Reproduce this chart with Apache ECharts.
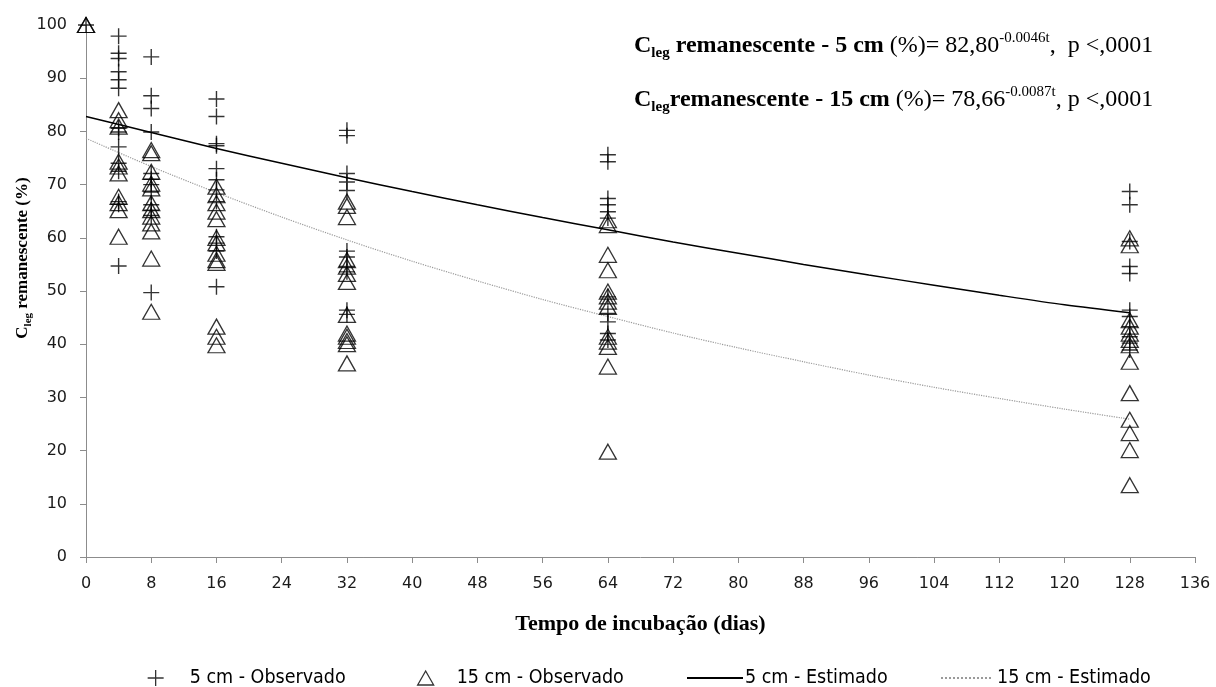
<!DOCTYPE html>
<html>
<head>
<meta charset="utf-8">
<script src="https://cdn.jsdelivr.net/npm/echarts@6/dist/echarts.min.js"></script>
<style>
  html, body { margin: 0; padding: 0; background: #fff; }
  #chart { width: 1216px; height: 687px; }
</style>
</head>
<body>
<div id="chart"></div>
<script>
// dias de incubação em que houve coleta
const dias = [0, 4, 8, 16, 32, 64, 128];

// C leg remanescente (%) observado - 5 cm, um array por dia
const obs5 = [
  [100],
  [97.9, 94.7, 93.7, 91.2, 89.7, 88.1, 80.6, 79.9, 77.1, 74.0, 72.5, 66.8, 66.3, 54.7],
  [94.0, 86.7, 84.3, 79.9, 72.1, 71.0, 70.0, 68.6, 66.2, 65.2, 64.2, 49.7],
  [86.1, 82.8, 77.7, 77.3, 73.0, 70.9, 69.0, 66.8, 60.2, 59.0, 57.5, 50.8],
  [80.2, 79.2, 72.1, 70.5, 68.9, 57.5, 56.4, 54.6, 53.6, 46.4, 45.6],
  [75.6, 74.3, 67.4, 66.2, 64.9, 63.7, 48.9, 45.8, 44.2, 42.0, 40.8],
  [68.7, 66.2, 59.3, 54.6, 53.3, 46.4, 45.2, 43.3, 41.4, 40.2, 38.9]
];

// C leg remanescente (%) observado - 15 cm
const obs15 = [
  [100, 100],
  [84.0, 82.1, 80.9, 74.3, 73.4, 72.1, 67.7, 66.5, 65.2, 60.2],
  [76.5, 75.9, 72.4, 70.2, 69.3, 66.5, 65.2, 64.0, 62.7, 61.2, 56.1, 46.1],
  [69.6, 68.0, 66.5, 64.9, 63.5, 60.0, 59.0, 57.0, 55.8, 55.3, 43.3, 41.4, 39.8],
  [66.8, 66.0, 63.9, 55.8, 54.6, 53.2, 51.7, 45.5, 42.0, 41.4, 40.6, 40.0, 36.4],
  [63.3, 62.4, 56.8, 53.9, 49.9, 49.0, 48.0, 47.0, 41.4, 40.5, 39.5, 35.8, 19.8],
  [59.9, 58.6, 44.5, 43.3, 42.0, 40.8, 39.8, 36.7, 30.8, 25.8, 23.3, 20.1, 13.5]
];

// curvas estimadas, lidas do gráfico a cada 8 dias
const tempoCurva = [0, 8, 16, 24, 32, 40, 48, 56, 64, 72, 80, 88, 96, 104, 112, 120, 128];
const est5 = [82.8, 79.8, 76.8, 74.0, 71.3, 68.7, 66.2, 63.8, 61.5, 59.2, 57.1, 55.0, 53.0, 51.1, 49.2, 47.4, 45.9];
const est15 = [78.7, 73.4, 68.5, 63.9, 59.6, 55.6, 51.9, 48.4, 45.2, 42.1, 39.3, 36.7, 34.2, 31.9, 29.8, 27.8, 25.9];

const toPairs = (groups) =>
  groups.flatMap((vals, i) => vals.map((v) => [dias[i], v]));
const curve = (vals) => tempoCurva.map((t, i) => [t, vals[i]]);

const plusPath = "path://M5 0L5 10M0 5L10 5";
const serif = "'Liberation Serif', 'Times New Roman', serif";
const tickFont = "'DejaVu Sans', Verdana, sans-serif";
const legendFont = "'DejaVu Sans Condensed', 'Liberation Sans', sans-serif";

const eqRich = {
  b: { fontFamily: serif, fontWeight: "bold", fontSize: 24, lineHeight: 30, color: "#000" },
  sub: { fontFamily: serif, fontWeight: "bold", fontSize: 15, lineHeight: 15, verticalAlign: "bottom", color: "#000" },
  n: { fontFamily: serif, fontSize: 24, lineHeight: 30, color: "#000" },
  sup: { fontFamily: serif, fontSize: 15, lineHeight: 17, verticalAlign: "top", color: "#000" }
};

const hollow = { color: "rgba(255,255,255,0)", borderColor: "#000", borderWidth: 1.3 };

// cada item da legenda é posicionado à parte, como no Excel
const legendItem = (name, left, opts) => ({
  data: [name],
  left,
  top: 668,
  padding: 0,
  itemGap: 0,
  itemWidth: opts.w,
  itemHeight: opts.h,
  icon: opts.icon,
  itemStyle: opts.hideSymbol ? { opacity: 0 } : hollow,
  textStyle: {
    fontFamily: legendFont,
    fontSize: 19.5,
    color: "#000",
    padding: [0, 0, 0, opts.pad]
  }
});

const chart = echarts.init(document.getElementById("chart"));
chart.setOption({
  animation: false,
  backgroundColor: "#fff",
  grid: { left: 86, right: 21, top: 25, bottom: 130, outerBoundsMode: "none" },
  legend: [
    legendItem("5 cm - Observado", 147, { w: 16, h: 16, icon: plusPath, pad: 21 }),
    legendItem("15 cm - Observado", 417, { w: 16, h: 14, icon: "triangle", pad: 18 }),
    legendItem("5 cm - Estimado", 686, { w: 56, h: 16, hideSymbol: true, pad: -3 }),
    legendItem("15 cm - Estimado", 940, { w: 52, h: 16, hideSymbol: true, pad: -1 })
  ],
  xAxis: {
    type: "value",
    min: 0,
    max: 136,
    interval: 8,
    name: "Tempo de incubação (dias)",
    nameLocation: "middle",
    nameGap: 56,
    nameTextStyle: { fontFamily: serif, fontWeight: "bold", fontSize: 22, color: "#000" },
    axisLine: { lineStyle: { color: "#8c8c8c", width: 1 } },
    axisTick: { show: true, length: 6, lineStyle: { color: "#8c8c8c" } },
    axisLabel: { margin: 19, fontFamily: tickFont, fontSize: 16, color: "#1a1a1a" },
    splitLine: { show: false }
  },
  yAxis: {
    type: "value",
    min: 0,
    max: 100,
    interval: 10,
    axisLine: { show: true, lineStyle: { color: "#8c8c8c", width: 1 } },
    axisTick: { show: true, length: 6, lineStyle: { color: "#8c8c8c" } },
    axisLabel: { margin: 19, fontFamily: tickFont, fontSize: 16, color: "#1a1a1a" },
    splitLine: { show: false }
  },
  graphic: [
    {
      type: "text",
      x: 23,
      y: 258,
      rotation: Math.PI / 2,
      style: {
        text: "{b|C}{sub|leg}{b| remanescente (%)}",
        align: "center",
        verticalAlign: "middle",
        rich: {
          b: { fontFamily: serif, fontWeight: "bold", fontSize: 17, lineHeight: 22, color: "#000" },
          sub: { fontFamily: serif, fontWeight: "bold", fontSize: 11, lineHeight: 11, verticalAlign: "bottom", color: "#000" }
        }
      }
    },
    {
      type: "text",
      left: 634,
      top: 31,
      style: {
        text: "{b|C}{sub|leg}{b| remanescente - 5 cm }{n|(%)= 82,80}{sup|-0.0046t}{n|,  p <,0001}",
        rich: eqRich
      }
    },
    {
      type: "text",
      left: 634,
      top: 85,
      style: {
        text: "{b|C}{sub|leg}{b|remanescente - 15 cm }{n|(%)= 78,66}{sup|-0.0087t}{n|, p <,0001}",
        rich: eqRich
      }
    }
  ],
  series: [
    {
      name: "5 cm - Estimado",
      type: "line",
      data: curve(est5),
      symbol: "none",
      smooth: 0.3,
      lineStyle: { color: "#000", width: 1.5 },
      itemStyle: { color: "#000" },
      z: 2
    },
    {
      name: "15 cm - Estimado",
      type: "line",
      data: curve(est15),
      symbol: "none",
      smooth: 0.3,
      lineStyle: { color: "#9a9a9a", width: 1.2, type: "dotted" },
      itemStyle: { color: "#9a9a9a" },
      z: 2
    },
    {
      name: "5 cm - Observado",
      type: "scatter",
      data: toPairs(obs5),
      symbol: plusPath,
      symbolSize: 16,
      itemStyle: { color: "none", borderColor: "#000", borderWidth: 1.4 },
      z: 3
    },
    {
      name: "15 cm - Observado",
      type: "scatter",
      data: toPairs(obs15),
      symbol: "triangle",
      symbolSize: [17, 15],
      itemStyle: hollow,
      z: 3
    }
  ]
});
</script>
</body>
</html>
